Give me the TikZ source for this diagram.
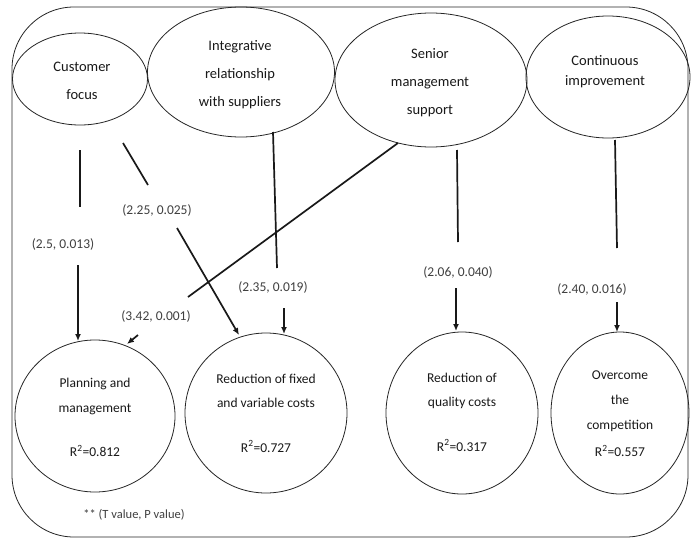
\documentclass[tikz,border=0pt]{standalone}
\usepackage{fontspec}
\setmainfont{Carlito}
\usetikzlibrary{shapes.geometric,arrows.meta}
\begin{document}
\begin{tikzpicture}[x=1pt,y=-1pt,
  oval/.style={draw=black!85,line width=0.8pt,ellipse,inner sep=0pt},
  toptxt/.style={align=center,font=\fontsize{14.5}{28}\selectfont,text=black!90},
  bottxt/.style={align=center,font=\fontsize{13.5}{24.5}\selectfont,text=black!90},
  lbl/.style={font=\fontsize{13.5}{16}\selectfont,text=black!75},
  seg/.style={line width=1.7pt,black!90},
  arr/.style={line width=1.7pt,black!90,-{Latex[length=7pt,width=6pt]}}]
\useasboundingbox (0,0) rectangle (691,541);
\fill[white] (0,0) rectangle (691,541);
% frame
\draw[black!85,line width=0.8pt,rounded corners=62pt] (12,7) rectangle (688,537);
% top ellipses
\node[oval,minimum width=135pt,minimum height=92pt] (cf) at (80,79) {};
\node[toptxt] (cft) at (82,81) {Customer\\focus};
\node[oval,minimum width=187pt,minimum height=130pt] (irs) at (241,72) {};
\node[toptxt] (irst) at (240,75) {Integrative\\relationship\\with suppliers};
\node[oval,minimum width=192pt,minimum height=134pt] (sms) at (431,80) {};
\node[toptxt] (smst) at (430,82.5) {Senior\\management\\support};
\node[oval,minimum width=164pt,minimum height=122pt] (ci) at (608,77) {};
\node[toptxt,font=\fontsize{14.5}{20}\selectfont] (cit) at (605,72) {Continuous\\improvement};
% bottom circles
\node[oval,minimum width=160pt,minimum height=152pt] (pm) at (95,416) {};
\node[bottxt] (pmt) at (95,417.5) {Planning and\\management\\[20pt]R\textsuperscript{2}=0.812};
\node[oval,minimum width=162pt,minimum height=160pt] (rf) at (266,413) {};
\node[bottxt] (rft) at (266,413) {Reduction of fixed\\and variable costs\\[20pt]R\textsuperscript{2}=0.727};
\node[oval,minimum width=152pt,minimum height=162pt] (rq) at (462,413) {};
\node[bottxt] (rqt) at (462,412) {Reduction of\\quality costs\\[20pt]R\textsuperscript{2}=0.317};
\node[oval,minimum width=138pt,minimum height=162pt] (oc) at (620,413) {};
\node[bottxt,font=\fontsize{13.5}{25}\selectfont] (oct) at (620,413.5) {Overcome\\the\\competition\\[2pt]R\textsuperscript{2}=0.557};
% labels
\node[lbl] (l1) at (63,244) {(2.5, 0.013)};
\node[lbl] (l2) at (157,210) {(2.25, 0.025)};
\node[lbl] (l3) at (156,316) {(3.42, 0.001)};
\node[lbl] (l4) at (273,287) {(2.35, 0.019)};
\node[lbl] (l5) at (458,272) {(2.06, 0.040)};
\node[lbl] (l6) at (592,289) {(2.40, 0.016)};
\node[lbl,font=\fontsize{12.5}{14}\selectfont] (note) at (134,515) {** (T value, P value)};
% break points
\coordinate (a1) at (80,150); \coordinate (a2) at (80,207); \coordinate (a3) at (78,265); \coordinate (a4) at (78,341);
\coordinate (b1) at (123,143); \coordinate (b2) at (148,185); \coordinate (b3) at (177,228); \coordinate (b4) at (239,335);
\coordinate (c1) at (273,132); \coordinate (c2) at (277,268); \coordinate (c3) at (284,308); \coordinate (c4) at (284,334);
\coordinate (d1) at (398,143); \coordinate (d2) at (188,297); \coordinate (d3) at (138,335); \coordinate (d4) at (127,344);
\coordinate (e1) at (457,150); \coordinate (e2) at (458,242); \coordinate (e3) at (456,288); \coordinate (e4) at (456,331);
\coordinate (f1) at (615,140); \coordinate (f2) at (617,248); \coordinate (f3) at (617,302); \coordinate (f4) at (617,332);
% connectors
\draw[seg] (a1) -- (a2); \draw[arr] (a3) -- (a4);
\draw[seg] (b1) -- (b2); \draw[arr] (b3) -- (b4);
\draw[seg] (c1) -- (c2); \draw[arr] (c3) -- (c4);
\draw[seg] (d1) -- (d2); \draw[arr] (d3) -- (d4);
\draw[seg] (e1) -- (e2); \draw[arr] (e3) -- (e4);
\draw[seg] (f1) -- (f2); \draw[arr] (f3) -- (f4);
\end{tikzpicture}
\end{document}
